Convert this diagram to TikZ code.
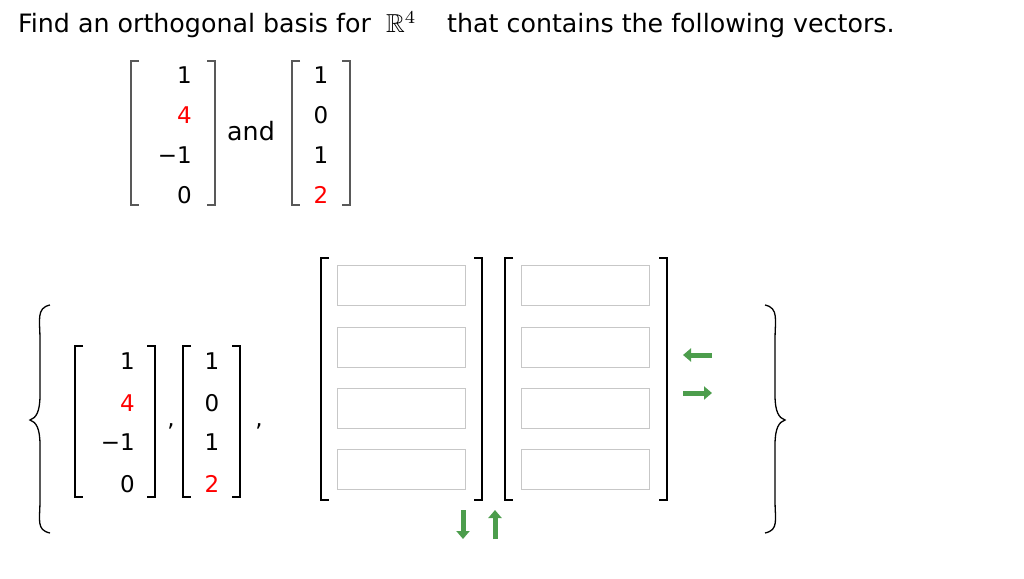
\documentclass[tikz,border=0pt]{standalone}
\usepackage{amssymb}
\usepackage{fontspec}
\setmainfont{DejaVu Sans}
\usetikzlibrary{arrows.meta}
\begin{document}
\begin{tikzpicture}[x=1pt,y=-1pt,
  txt/.style={font=\fontsize{25.3}{28}\selectfont,inner sep=0pt},
  ent/.style={font=\fontsize{23}{26}\selectfont,inner sep=0pt},
  red/.style={text=red},
  brk/.style={line width=1.4pt,draw=#1},
  inbox/.style={draw=black!22,line width=1pt,minimum width=128pt,minimum height=40pt,inner sep=0pt},
  garrow/.style={-{Triangle[length=8pt,width=13pt]},line width=5pt,draw=green!45!black!70}
]
\useasboundingbox (0,0) rectangle (1024,578);
\node[txt,anchor=base west] (t1) at (18,33) {Find an orthogonal basis for};
\node[anchor=base west,inner sep=0pt] (t2) at (386,33) {\scalebox{2.6}{$\mathbb{R}^4$}};
\node[txt,anchor=base west] (t3) at (447,33) {that contains the following vectors.};
\def\lbr#1#2#3#4{\draw[brk=#4] (#1+8,#2) -- (#1,#2) -- (#1,#3) -- (#1+8,#3);}
\def\rbr#1#2#3#4{\draw[brk=#4] (#1-8,#2) -- (#1,#2) -- (#1,#3) -- (#1-8,#3);}
\lbr{131}{61}{205}{black!65}\rbr{215}{61}{205}{black!65}
\node[ent,anchor=east] (a1) at (192,75) {1};
\node[ent,anchor=east,red] (a2) at (192,115) {4};
\node[ent,anchor=east] (a3) at (192,155) {−1};
\node[ent,anchor=east] (a4) at (192,195) {0};
\node[txt] (and) at (251,131) {and};
\lbr{292}{61}{205}{black!65}\rbr{350}{61}{205}{black!65}
\node[ent] (b1) at (321,75) {1};
\node[ent] (b2) at (321,115) {0};
\node[ent] (b3) at (321,155) {1};
\node[ent,red] (b4) at (321,195) {2};
\draw[line width=1.3pt] (50,305) .. controls (36,308) and (40,320) .. (40,340) -- (40,395) .. controls (40,412) and (36,418) .. (30,420)
  .. controls (36,422) and (40,428) .. (40,445) -- (40,500) .. controls (40,520) and (36,530) .. (50,533);
\draw[line width=1.3pt] (765,305) .. controls (779,308) and (775,320) .. (775,340) -- (775,395) .. controls (775,412) and (779,418) .. (785,420)
  .. controls (779,422) and (775,428) .. (775,445) -- (775,500) .. controls (775,520) and (779,530) .. (765,533);
\lbr{75}{346}{497}{black}\rbr{155}{346}{497}{black}
\node[ent,anchor=east] (c1) at (135,361) {1};
\node[ent,anchor=east,red] (c2) at (135,403) {4};
\node[ent,anchor=east] (c3) at (135,442) {−1};
\node[ent,anchor=east] (c4) at (135,484) {0};
\node[ent] (cm1) at (171,426) {,};
\lbr{183}{346}{497}{black}\rbr{240}{346}{497}{black}
\node[ent] (d1) at (212,361) {1};
\node[ent] (d2) at (212,403) {0};
\node[ent] (d3) at (212,442) {1};
\node[ent,red] (d4) at (212,484) {2};
\node[ent] (cm2) at (259,426) {,};
\lbr{321}{258}{500}{black}\rbr{482}{258}{500}{black}
\lbr{505}{258}{500}{black}\rbr{667}{258}{500}{black}
\foreach \y/\i in {285/1,347/2,408/3,469/4}{
  \node[inbox] (p\i) at (401,\y) {};
  \node[inbox] (q\i) at (585,\y) {};
}
\coordinate (la1) at (712,355); \coordinate (la2) at (683,355);
\draw[garrow] (la1) -- (la2);
\coordinate (ra1) at (683,393); \coordinate (ra2) at (712,393);
\draw[garrow] (ra1) -- (ra2);
\coordinate (da1) at (463,510); \coordinate (da2) at (463,539);
\draw[garrow] (da1) -- (da2);
\coordinate (ua1) at (495,539); \coordinate (ua2) at (495,510);
\draw[garrow] (ua1) -- (ua2);
\end{tikzpicture}
\end{document}
